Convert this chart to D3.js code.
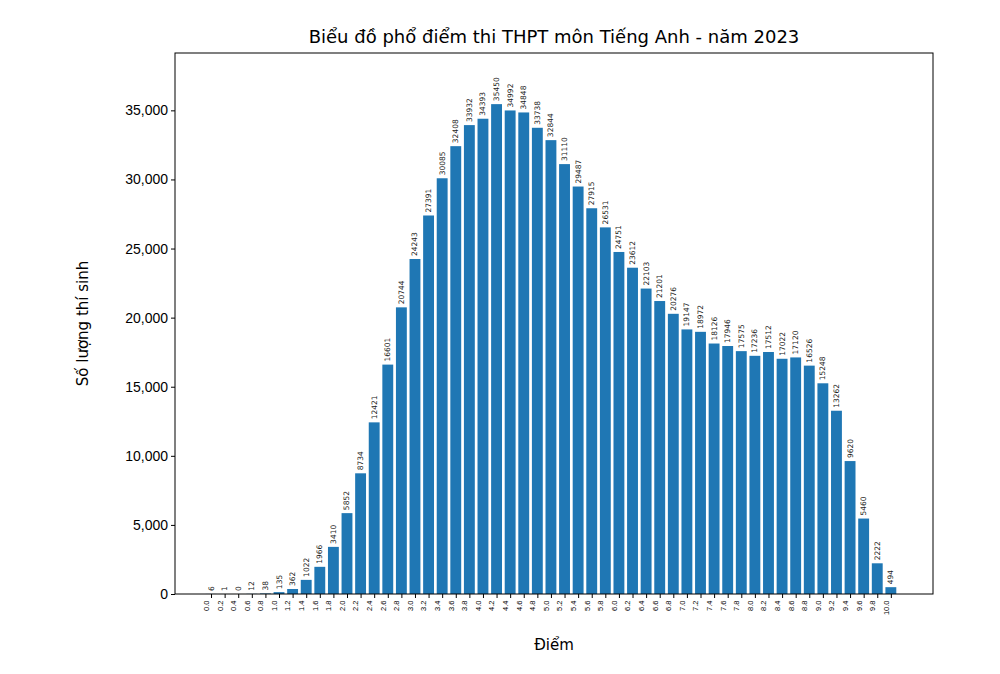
<!DOCTYPE html>
<html><head><meta charset="utf-8">
<script src="https://cdn.jsdelivr.net/npm/d3@7"></script>
<style>body{margin:0;background:#fff;font-family:"DejaVu Sans",sans-serif;}</style>
</head><body><div id="plot"></div>
<script>
// data
const scores = d3.range(51).map(i => +(i * 0.2).toFixed(1));
const counts = [6,1,0,12,38,135,362,1022,1966,3410,5852,8734,12421,16601,20744,24243,27391,30085,32408,33932,
  34393,35450,34992,34848,33738,32844,31110,29487,27915,26531,24751,23612,22103,21201,20276,19147,18972,18126,
  17946,17575,17236,17512,17022,17120,16526,15248,13262,9620,5460,2222,494];
const yTicks = [0,5000,10000,15000,20000,25000,30000,35000];

const width = 1000, height = 674;
const margin = {top: 53, right: 67, bottom: 80, left: 175};
const w = width - margin.left - margin.right, h = height - margin.top - margin.bottom;

const svg = d3.select("#plot").append("svg").attr("width", width).attr("height", height);
const g = svg.append("g").attr("transform", `translate(${margin.left},${margin.top})`);

const x = d3.scaleLinear().domain([-0.53, 10.62]).range([0, w]);
const y = d3.scaleLinear().domain([0, 39150]).range([h, 0]);
const bw = x(0.16) - x(0);

g.selectAll("rect").data(counts).enter().append("rect")
  .attr("x", (d, i) => x(scores[i]) - bw / 2)
  .attr("width", bw)
  .attr("y", d => y(d))
  .attr("height", d => h - y(d))
  .attr("fill", "#1f77b4");

// value labels
g.selectAll("text.val").data(counts).enter().append("text")
  .attr("class", "val")
  .attr("transform", (d, i) => `translate(${x(scores[i]) + 2.5},${y(d) - 3}) rotate(-90)`)
  .attr("font-size", 7.5).attr("fill", "#222")
  .text(d => d);

// frame
g.append("rect").attr("width", w).attr("height", h).attr("fill", "none").attr("stroke", "#000").attr("stroke-width", 1);

// x axis
const xa = g.append("g").attr("transform", `translate(0,${h})`)
  .call(d3.axisBottom(x).tickValues(scores).tickFormat(d => d.toFixed(1)).tickSize(4));
xa.select(".domain").remove();
xa.selectAll("text").attr("font-size", 7.5).attr("transform", "rotate(-90)")
  .attr("text-anchor", "end").attr("dx", "-0.6em").attr("dy", "-0.35em").attr("y", 0).attr("x", -2);

// y axis
const ya = g.append("g").call(d3.axisLeft(y).tickValues(yTicks).tickSize(4));
ya.select(".domain").remove();
ya.selectAll("text").attr("font-size", 14).attr("fill", "#000");

svg.append("text").attr("x", margin.left + w / 2).attr("y", 650).attr("text-anchor", "middle")
  .attr("font-size", 15).text("Điểm");
svg.append("text").attr("transform", `translate(88,${margin.top + h / 2}) rotate(-90)`)
  .attr("text-anchor", "middle").attr("font-size", 15).text("Số lượng thí sinh");
svg.append("text").attr("x", margin.left + w / 2).attr("y", 43).attr("text-anchor", "middle")
  .attr("font-size", 18).text("Biểu đồ phổ điểm thi THPT môn Tiếng Anh - năm 2023");
</script></body></html>
